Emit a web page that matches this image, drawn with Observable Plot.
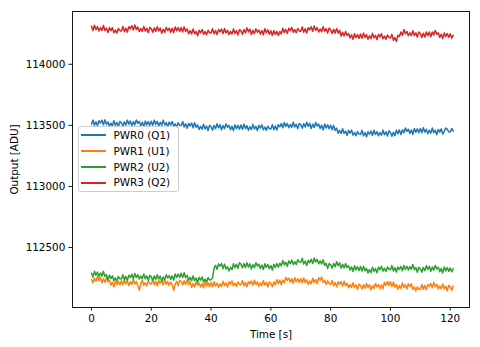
<!DOCTYPE html>
<html>
<head>
<meta charset="utf-8">
<script src="https://cdn.jsdelivr.net/npm/d3@7"></script>
<script src="https://cdn.jsdelivr.net/npm/@observablehq/plot@0.6"></script>
<style>
  body { margin: 0; background: #fff; }
  #wrap { position: relative; width: 480px; height: 347px; font-family: "DejaVu Sans", sans-serif; }
  #legend { position: absolute; left: 78px; top: 126px; width: 101px; height: 66px; box-sizing: border-box;
            background: rgba(255,255,255,0.8); border: 1px solid #cccccc; border-radius: 3px; }
  .sw { position: absolute; left: 2px; width: 25px; height: 1.5px; }
  .lb { position: absolute; left: 34.5px; font-size: 10.4px; line-height: 12px; color: #000; white-space: nowrap; }
</style>
</head>
<body>
<div id="wrap"><div id="chart"></div><div id="legend"></div></div>
<script>
const seriesNames = ["PWR0 (Q1)", "PWR1 (U1)", "PWR2 (U2)", "PWR3 (Q2)"];
const seriesColors = ["#1f77b4", "#ff7f0e", "#2ca02c", "#d62728"];
const xTicks = [0, 20, 40, 60, 80, 100, 120];
const yTicks = [112500, 113000, 113500, 114000];
const sampleInterval = 0.5; // seconds between samples, starting at t = 0

const pwr0 = [
113508,113543,113501,113530,113496,113538,113519,113543,113505,113545,113508,113528,113492,113518,113496,113538,113501,113524,113489,113532,
113521,113493,113530,113502,113543,113510,113536,113494,113530,113504,113544,113516,113532,113497,113525,113488,113535,113504,113531,113500,
113534,113500,113543,113508,113532,113496,113525,113501,113543,113504,113523,113486,113527,113504,113531,113490,113512,113485,113521,113501,
113498,113531,113487,113513,113476,113516,113495,113519,113481,113521,113484,113504,113467,113491,113468,113509,113471,113494,113458,113501,
113489,113461,113499,113472,113513,113480,113505,113463,113498,113472,113512,113484,113500,113465,113493,113457,113504,113473,113500,113469,
113503,113468,113510,113474,113497,113460,113489,113465,113508,113471,113492,113457,113500,113478,113505,113464,113486,113459,113494,113474,
113471,113506,113465,113495,113462,113506,113488,113515,113480,113524,113491,113515,113481,113507,113484,113525,113487,113509,113473,113516,
113505,113477,113514,113486,113526,113492,113517,113474,113509,113483,113523,113494,113510,113474,113501,113463,113510,113478,113504,113472,
113502,113463,113500,113459,113477,113435,113460,113433,113473,113434,113453,113417,113459,113436,113462,113420,113441,113414,113449,113429,
113426,113459,113415,113442,113406,113447,113428,113453,113417,113460,113426,113449,113415,113441,113419,113461,113424,113447,113412,113455,
113442,113410,113444,113415,113460,113432,113463,113425,113463,113439,113479,113451,113468,113434,113463,113427,113475,113444,113471,113440,
113474,113439,113481,113445,113468,113431,113460,113436,113478,113440,113460,113424,113467,113444,113471,113429,113451,113478,113470,113447,
113445,113475,113453
];
const pwr1 = [
112238,112212,112250,112223,112264,112231,112256,112212,112245,112216,112252,112219,112231,112192,112216,112177,112225,112195,112223,112193,
112228,112194,112237,112202,112226,112190,112220,112197,112240,112202,112222,112186,112152,112205,112231,112190,112212,112186,112223,112204,
112202,112237,112195,112223,112187,112228,112208,112232,112194,112235,112200,112223,112189,112216,112194,112148,112199,112223,112188,112232,
112222,112194,112229,112198,112235,112198,112220,112174,112206,112178,112218,112191,112209,112176,112206,112171,112218,112186,112212,112180,
112213,112178,112220,112185,112209,112173,112203,112180,112224,112188,112210,112176,112220,112199,112226,112186,112208,112182,112218,112198,
112195,112229,112186,112214,112179,112221,112202,112227,112190,112232,112197,112219,112184,112210,112188,112230,112193,112215,112178,112218,
112205,112179,112219,112194,112237,112206,112234,112195,112234,112212,112256,112231,112250,112217,112245,112207,112253,112220,112245,112213,
112246,112210,112251,112214,112236,112198,112226,112203,112248,112214,112238,112206,112252,112232,112259,112215,112231,112198,112228,112204,
112198,112231,112187,112214,112178,112219,112199,112223,112184,112224,112187,112207,112171,112196,112172,112212,112173,112194,112158,112200,
112189,112160,112196,112167,112206,112171,112196,112153,112189,112164,112205,112178,112196,112163,112195,112163,112216,112190,112221,112190,
112220,112180,112217,112177,112196,112159,112189,112166,112210,112174,112196,112161,112203,112179,112203,112158,112176,112145,112178,112158,
112159,112198,112159,112190,112155,112198,112180,112206,112170,112213,112178,112199,112162,112186,112162,112201,112162,112183,112146,112189,
112179,112149,112184
];
const pwr2 = [
112289,112258,112305,112273,112299,112263,112292,112266,112305,112263,112278,112237,112274,112246,112269,112228,112251,112226,112263,112244,
112242,112277,112235,112264,112230,112273,112255,112281,112245,112288,112254,112277,112242,112267,112244,112284,112245,112267,112231,112273,
112260,112231,112267,112238,112277,112242,112266,112223,112259,112235,112277,112251,112270,112238,112268,112233,112283,112254,112283,112254,
112289,112254,112293,112253,112272,112231,112256,112228,112268,112230,112250,112214,112256,112233,112259,112218,112241,112216,112254,112236,
112235,112252,112330,112354,112322,112366,112347,112369,112327,112364,112324,112343,112308,112337,112320,112367,112335,112362,112330,112375,
112364,112334,112368,112337,112375,112340,112366,112324,112360,112335,112376,112348,112364,112329,112357,112320,112367,112336,112362,112326,
112352,112315,112362,112336,112369,112339,112372,112350,112394,112358,112380,112346,112390,112369,112398,112360,112385,112361,112400,112382,
112379,112411,112365,112390,112353,112394,112376,112403,112369,112414,112381,112403,112367,112391,112365,112400,112355,112370,112329,112369,
112358,112331,112369,112343,112384,112351,112375,112331,112363,112333,112369,112337,112351,112315,112342,112304,112350,112317,112343,112311,
112344,112307,112347,112309,112330,112291,112319,112295,112339,112304,112327,112294,112339,112319,112347,112307,112330,112304,112341,112322,
112319,112352,112308,112335,112299,112340,112320,112345,112309,112353,112321,112347,112316,112344,112322,112361,112319,112337,112298,112338,
112326,112298,112336,112310,112352,112320,112347,112305,112341,112315,112354,112324,112338,112301,112328,112292,112340,112309,112336,112305,
112333,112301,112326
];
const pwr3 = [
114312,114277,114320,114284,114308,114272,114301,114276,114317,114277,114296,114259,114300,114275,114300,114258,114280,114255,114293,114275,
114273,114309,114267,114296,114263,114307,114290,114316,114280,114321,114285,114305,114268,114292,114269,114310,114272,114295,114259,114302,
114291,114262,114298,114269,114308,114273,114297,114253,114287,114261,114302,114276,114295,114263,114294,114259,114306,114274,114300,114268,
114301,114265,114306,114269,114290,114250,114276,114249,114289,114249,114269,114234,114278,114257,114285,114245,114268,114241,114278,114258,
114257,114291,114249,114277,114243,114285,114265,114289,114251,114292,114256,114278,114243,114269,114247,114289,114252,114275,114240,114283,
114273,114246,114284,114257,114298,114264,114288,114244,114278,114251,114290,114262,114280,114247,114277,114242,114291,114259,114282,114246,
114275,114236,114277,114243,114269,114236,114269,114248,114295,114261,114285,114251,114295,114274,114302,114262,114284,114257,114293,114273,
114270,114305,114262,114291,114256,114299,114281,114307,114271,114313,114278,114300,114264,114289,114266,114307,114269,114291,114255,114296,
114283,114252,114286,114255,114292,114255,114278,114231,114262,114232,114268,114236,114251,114215,114242,114204,114250,114218,114244,114213,
114248,114213,114255,114219,114242,114205,114234,114210,114253,114216,114237,114202,114245,114223,114250,114209,114231,114204,114240,114220,
114215,114245,114196,114218,114187,114237,114228,114264,114236,114284,114249,114270,114234,114258,114234,114274,114236,114258,114222,114264,
114251,114220,114254,114223,114264,114234,114264,114226,114265,114239,114277,114245,114258,114220,114246,114210,114257,114226,114252,114221,
114249,114214,114238
];

const seriesValues = [pwr0, pwr1, pwr2, pwr3];
const rows = seriesValues.flatMap((vals, k) =>
  vals.map((v, i) => ({ t: i * sampleInterval, v, name: seriesNames[k] })));

const chart = Plot.plot({
  width: 480, height: 347,
  marginLeft: 72, marginRight: 11, marginTop: 11, marginBottom: 40,
  style: { fontFamily: "DejaVu Sans, sans-serif", fontSize: "10.4px", color: "#000", background: "#fff", overflow: "visible" },
  x: { domain: [-6.35, 126.45] },
  y: { domain: [112009, 114432] },
  color: { domain: seriesNames, range: seriesColors },
  marks: [
    Plot.lineY(rows, { x: "t", y: "v", z: "name", stroke: "name", strokeWidth: 1.5 }),
    Plot.frame({ stroke: "#000", strokeWidth: 0.9 }),
    Plot.axisX({ ticks: xTicks, tickFormat: d3.format("d"), tickSize: 3.6, tickPadding: 3.2, strokeWidth: 0.9,
                 label: "Time [s]", labelAnchor: "center", labelArrow: "none", labelOffset: 30 }),
    Plot.axisY({ ticks: yTicks, tickFormat: d3.format("d"), tickSize: 3.6, tickPadding: 3.6, strokeWidth: 0.9,
                 label: "Output [ADU]", labelAnchor: "center", labelArrow: "none", labelOffset: 62 })
  ]
});
document.getElementById("chart").appendChild(chart);

const legend = document.getElementById("legend");
seriesNames.forEach((name, i) => {
  const cy = 8.2 + i * 15.9;
  const sw = document.createElement("div");
  sw.className = "sw";
  sw.style.top = (cy - 0.75) + "px";
  sw.style.background = seriesColors[i];
  const lb = document.createElement("div");
  lb.className = "lb";
  lb.style.top = (cy - 6.5) + "px";
  lb.textContent = name;
  legend.appendChild(sw);
  legend.appendChild(lb);
});
</script>
</body>
</html>
